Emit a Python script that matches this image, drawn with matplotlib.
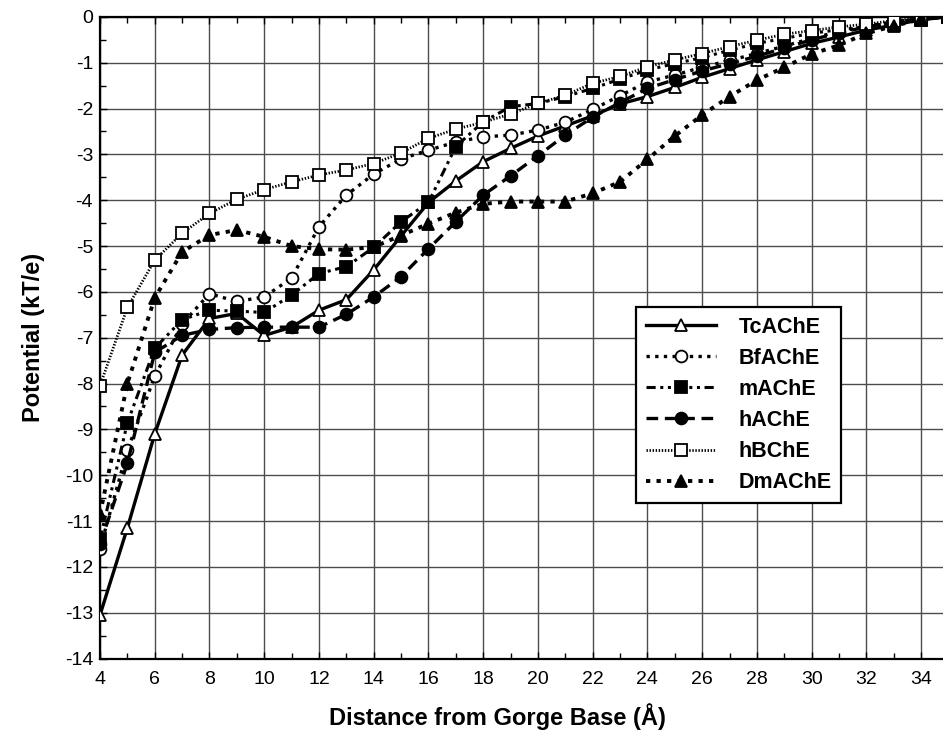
import numpy as np
import matplotlib
matplotlib.use('Agg')
import matplotlib.pyplot as plt
from matplotlib.ticker import MultipleLocator

# distance from gorge base (A)
dist = list(range(4, 36))

tc_ache = [-13.05, -11.15, -9.1, -7.38, -6.58, -6.47, -6.95, -6.77, -6.4, -6.17,
           -5.52, -4.78, -4.05, -3.58, -3.16, -2.87, -2.6, -2.38, -2.16, -1.9,
           -1.74, -1.54, -1.32, -1.13, -0.94, -0.76, -0.58, -0.44, -0.29, -0.18, -0.06, 0.0]
bf_ache = [-11.6, -9.46, -7.84, -6.7, -6.04, -6.21, -6.11, -5.7, -4.58, -3.89,
           -3.43, -3.1, -2.91, -2.73, -2.62, -2.58, -2.47, -2.3, -2.02, -1.72,
           -1.42, -1.27, -1.1, -0.95, -0.8, -0.64, -0.47, -0.32, -0.2, -0.11, -0.04, 0.0]
m_ache = [-11.4, -8.86, -7.23, -6.61, -6.4, -6.42, -6.45, -6.07, -5.6, -5.45,
          -5.03, -4.47, -4.05, -2.83, -2.29, -1.96, -1.89, -1.74, -1.56, -1.36,
          -1.16, -1.02, -0.89, -0.73, -0.58, -0.47, -0.36, -0.28, -0.22, -0.15, -0.06, 0.0]
h_ache = [-11.5, -9.74, -7.32, -6.95, -6.82, -6.78, -6.77, -6.77, -6.77, -6.49,
          -6.11, -5.67, -5.06, -4.47, -3.89, -3.47, -3.03, -2.58, -2.19, -1.87,
          -1.56, -1.37, -1.18, -1.02, -0.86, -0.68, -0.5, -0.35, -0.22, -0.12, -0.04, 0.0]
h_bche = [-8.05, -6.34, -5.31, -4.72, -4.29, -3.98, -3.77, -3.6, -3.45, -3.34,
          -3.2, -2.97, -2.65, -2.45, -2.3, -2.12, -1.89, -1.71, -1.45, -1.3,
          -1.09, -0.94, -0.8, -0.65, -0.51, -0.38, -0.3, -0.22, -0.16, -0.08, -0.03, 0.0]
dm_ache = [-10.85, -8.0, -6.13, -5.13, -4.76, -4.65, -4.8, -5.0, -5.07, -5.08,
           -5.02, -4.77, -4.51, -4.27, -4.08, -4.03, -4.03, -4.03, -3.85, -3.6,
           -3.11, -2.6, -2.14, -1.74, -1.38, -1.1, -0.81, -0.62, -0.36, -0.2, -0.05, 0.0]

series = [
    ('TcAChE', tc_ache, '-', 2.4, '^', 'white'),
    ('BfAChE', bf_ache, (0, (1, 1.6)), 2.4, 'o', 'white'),
    ('mAChE', m_ache, (0, (3, 1.5, 1, 1.5, 1, 1.5)), 2.2, 's', 'black'),
    ('hAChE', h_ache, (0, (3.5, 2)), 2.4, 'o', 'black'),
    ('hBChE', h_bche, (0, (0.5, 0.6)), 2.0, 's', 'white'),
    ('DmAChE', dm_ache, (0, (1.1, 1.6)), 2.8, '^', 'black'),
]

plt.rcParams['font.family'] = ['Liberation Sans', 'DejaVu Sans']
plt.rcParams['axes.unicode_minus'] = False

fig = plt.figure(figsize=(9.43, 7.32), dpi=100)
ax = fig.add_axes([100 / 943, 0.1003, 843 / 943, 0.977 - 0.1003])

for name, vals, ls, lw, mk, fc in series:
    ax.plot(dist, vals, linestyle=ls, linewidth=lw, color='black',
            marker=mk, markersize=8.5, markerfacecolor=fc,
            markeredgecolor='black', markeredgewidth=1.3, label=name,
            zorder=3)

ax.set_xlim(4, 34.8)
ax.set_ylim(-14, 0)
ax.xaxis.set_major_locator(MultipleLocator(2))
ax.xaxis.set_minor_locator(MultipleLocator(1))
ax.yaxis.set_major_locator(MultipleLocator(1))
ax.yaxis.set_minor_locator(MultipleLocator(0.5))
ax.grid(True, which='major', color='0.3', linewidth=1.0, zorder=1)
ax.set_axisbelow(True)

ax.tick_params(which='both', direction='in', top=True, right=False, colors='black')
ax.tick_params(which='major', length=5, width=1, labelsize=14, pad=5)
ax.tick_params(axis='x', which='major', pad=9)
ax.tick_params(which='minor', length=4, width=1)

ax.spines['right'].set_visible(False)
for s in ['left', 'bottom', 'top']:
    ax.spines[s].set_linewidth(1.6)

ax.set_xlabel('Distance from Gorge Base (Å)', fontsize=17, fontweight='bold')
ax.xaxis.set_label_coords(0.472, -0.069)
ax.set_ylabel('Potential (kT/e)', fontsize=17, fontweight='bold', labelpad=14)

leg = ax.legend(loc='upper left', bbox_to_anchor=(0.636, 0.548), borderaxespad=0,
                numpoints=1, handlelength=3.25, handletextpad=1.05, labelspacing=0.47,
                borderpad=0.45, fancybox=False, shadow=False, framealpha=1,
                edgecolor='black', prop={'weight': 'bold', 'size': 15.5})
leg.get_frame().set_linewidth(1.6)

plt.savefig('out.png', dpi=100)
